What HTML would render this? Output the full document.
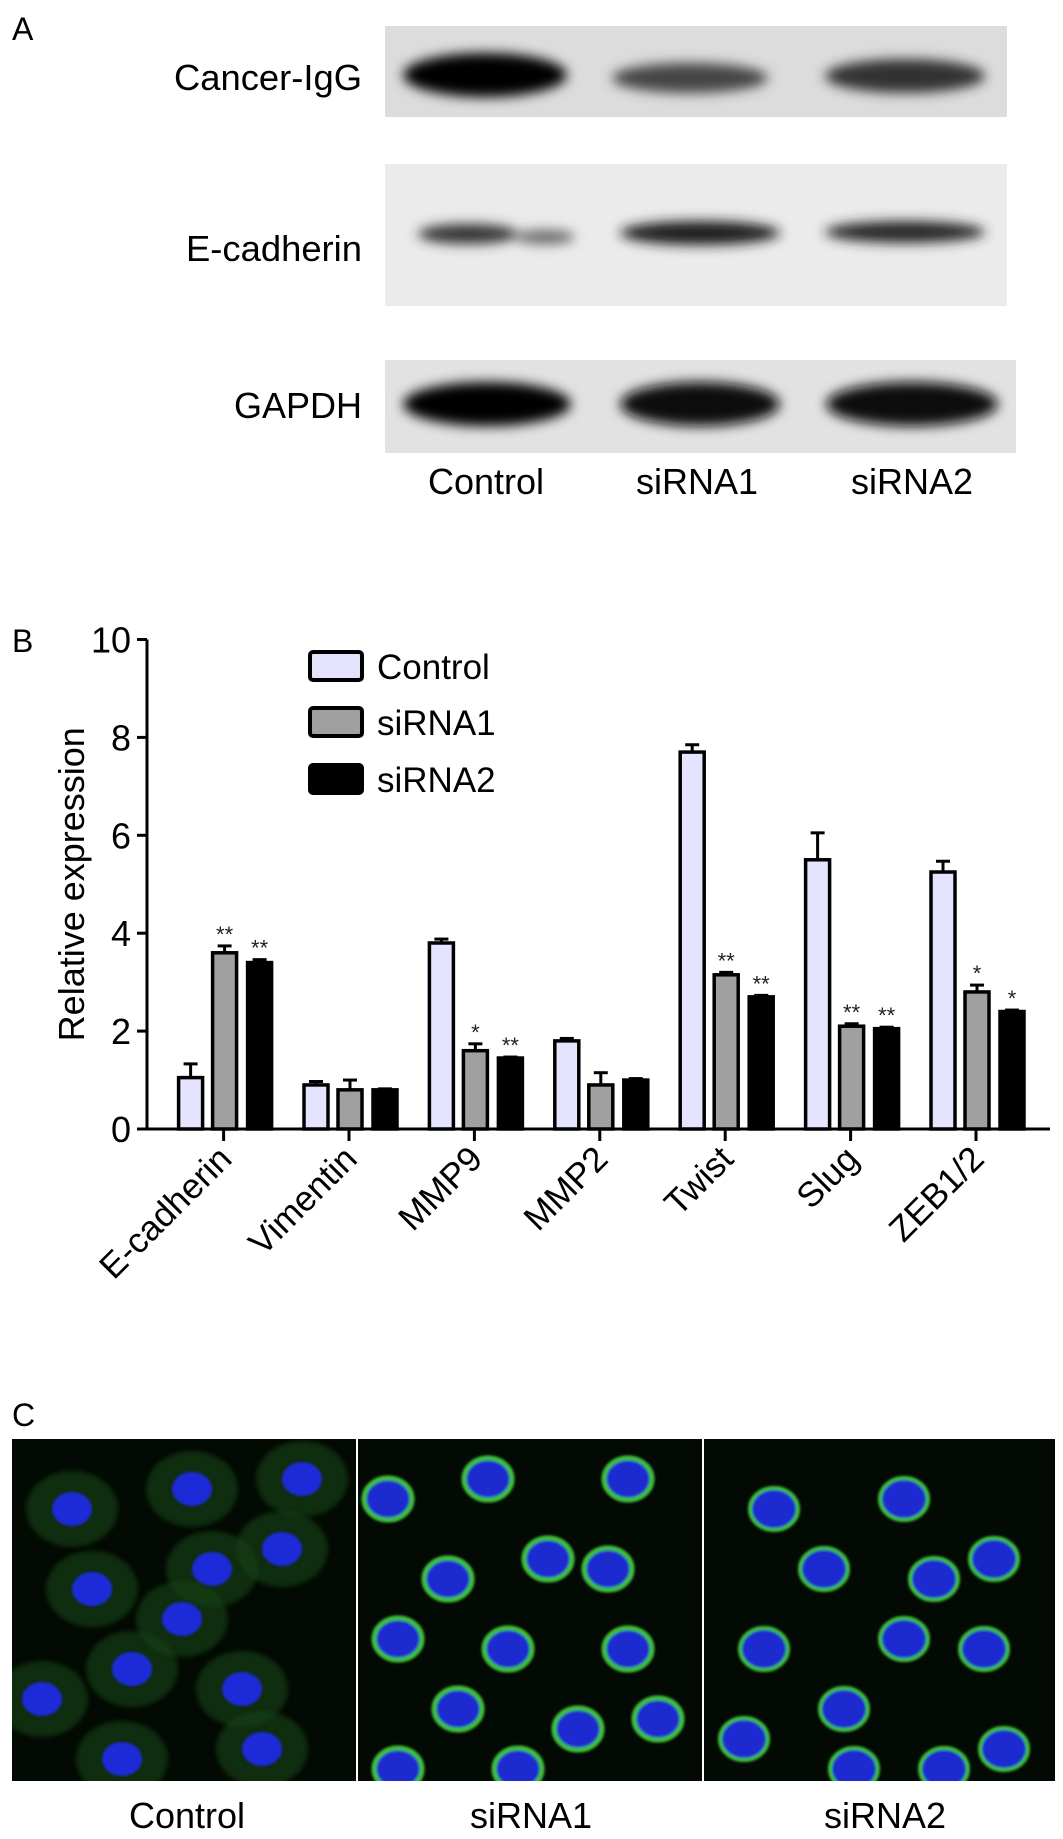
<!DOCTYPE html>
<html><head><meta charset="utf-8">
<style>
html,body{margin:0;padding:0;background:#fff;}
body{width:1063px;height:1834px;position:relative;overflow:hidden;font-family:"Liberation Sans",Arial,sans-serif;}
svg text{font-family:"Liberation Sans",Arial,sans-serif;}
</style></head>
<body>
<svg id="fig" width="1063" height="1834" viewBox="0 0 1063 1834" xmlns="http://www.w3.org/2000/svg">
<defs>
<filter id="blur6" x="-30%" y="-100%" width="160%" height="300%"><feGaussianBlur stdDeviation="6"/></filter>
<filter id="blur3" x="-30%" y="-50%" width="160%" height="200%"><feGaussianBlur stdDeviation="2.5"/></filter>
<filter id="blur1"><feGaussianBlur stdDeviation="1.2"/></filter>
<clipPath id="cp0"><rect x="12" y="1439" width="344" height="342"/></clipPath>
<clipPath id="cp1"><rect x="358" y="1439" width="344" height="342"/></clipPath>
<clipPath id="cp2"><rect x="704" y="1439" width="351" height="342"/></clipPath>
</defs>

<!-- Panel A -->
<text x="12" y="40" font-size="32">A</text>
<g>
  <rect x="385" y="26" width="622" height="91" fill="#dcdcdc"/>
  <rect x="385" y="164" width="622" height="142" fill="#ebebeb"/>
  <rect x="385" y="360" width="631" height="93" fill="#e2e2e2"/>
  <g filter="url(#blur6)">
    <ellipse cx="485" cy="75" rx="82" ry="22" fill="#050505"/>
    <ellipse cx="690" cy="78" rx="78" ry="15" fill="#444"/>
    <ellipse cx="905" cy="76" rx="80" ry="17" fill="#333"/>
    <ellipse cx="468" cy="234" rx="50" ry="10" fill="#333"/>
    <ellipse cx="545" cy="237" rx="30" ry="7" fill="#666"/>
    <ellipse cx="700" cy="233" rx="80" ry="12" fill="#1a1a1a"/>
    <ellipse cx="905" cy="232" rx="80" ry="11" fill="#262626"/>
    <ellipse cx="487" cy="404" rx="84" ry="22" fill="#050505"/>
    <ellipse cx="700" cy="404" rx="80" ry="22" fill="#080808"/>
    <ellipse cx="912" cy="404" rx="86" ry="22" fill="#080808"/>
  </g>
</g>
<g font-size="36" text-anchor="end">
  <text x="362" y="90" textLength="188" lengthAdjust="spacingAndGlyphs">Cancer-IgG</text>
  <text x="362" y="261" textLength="176" lengthAdjust="spacingAndGlyphs">E-cadherin</text>
  <text x="362" y="418" textLength="128" lengthAdjust="spacingAndGlyphs">GAPDH</text>
</g>
<g font-size="36" text-anchor="middle">
  <text x="486" y="494">Control</text>
  <text x="697" y="494">siRNA1</text>
  <text x="912" y="494">siRNA2</text>
</g>

<!-- Panel B -->
<text x="12" y="652" font-size="32">B</text>
<g id="chart"></g>

<!-- Panel C -->
<text x="12" y="1426" font-size="32">C</text>
<g id="micro"></g>
<g font-size="36" text-anchor="middle">
  <text x="187" y="1828">Control</text>
  <text x="531" y="1828">siRNA1</text>
  <text x="885" y="1828">siRNA2</text>
</g>
</svg>
<script>
const categories = ["E-cadherin","Vimentin","MMP9","MMP2","Twist","Slug","ZEB1/2"];
const seriesNames = ["Control","siRNA1","siRNA2"];
const controlVals = [1.05,0.9,3.8,1.8,7.7,5.5,5.25];
const sirna1Vals = [3.6,0.8,1.6,0.9,3.15,2.1,2.8];
const sirna2Vals = [3.4,0.8,1.45,1.0,2.7,2.05,2.4];
const controlErr = [0.28,0.07,0.08,0.05,0.15,0.55,0.22];
const sirna1Err = [0.14,0.2,0.14,0.25,0.05,0.05,0.14];
const sirna2Err = [0.06,0.02,0.02,0.03,0.03,0.03,0.03];
const sirna1Sig = ["**","","*","","**","**","*"];
const sirna2Sig = ["**","","**","","**","**","*"];
const yTicks = [0,2,4,6,8,10];

const NS="http://www.w3.org/2000/svg";
function mk(tag, attrs, parent){const e=document.createElementNS(NS,tag);for(const k in attrs)e.setAttribute(k,attrs[k]);parent.appendChild(e);return e;}
const chart=document.getElementById('chart');
const X0=147, X1=1050, Y0=1129, Ytop=639.5, YMAX=10;
const y=v=>Y0-(v/YMAX)*(Y0-Ytop);
const xc=i=>223.6+i*125.4;
const offsets=[-33,1,36];
const fills=["#e4e4ff","#a0a0a0","#000"];
const BW=24;
const vals=[controlVals,sirna1Vals,sirna2Vals];
const errs=[controlErr,sirna1Err,sirna2Err];
const sigs=[null,sirna1Sig,sirna2Sig];

let ax=mk('line',{x1:X0,y1:Ytop,x2:X0,y2:Y0+1.5,stroke:'#000','stroke-width':3},chart);


let bx=mk('line',{x1:X0-1.5,y1:Y0,x2:X1,y2:Y0,stroke:'#000','stroke-width':3},chart);


yTicks.forEach(t=>{
  const l=mk('line',{x1:X0-10,y1:y(t),x2:X0,y2:y(t),stroke:'#000','stroke-width':3},chart);
  
  
  const tx=mk('text',{x:X0-16,y:y(t)+13,'font-size':36,'text-anchor':'end'},chart);
  tx.textContent=t;
  
  
});
const yt=mk('text',{x:0,y:0,'font-size':36,'text-anchor':'middle',transform:`translate(84,${(Y0+Ytop)/2}) rotate(-90)`},chart);
yt.textContent="Relative expression";



categories.forEach((c,i)=>{
  const cx=xc(i);
  const tk=mk('line',{x1:cx,y1:Y0,x2:cx,y2:Y0+12,stroke:'#000','stroke-width':3},chart);
  
  
  const lb=mk('text',{x:0,y:0,'font-size':35,'text-anchor':'end',transform:`translate(${cx+10},${Y0+32}) rotate(-45)`},chart);
  lb.textContent=c;
  
  
  for(let s=0;s<3;s++){
    const v=vals[s][i], e=errs[s][i], bxc=cx+offsets[s];
    const top=y(v+e);
    const eb=mk('line',{x1:bxc,y1:top,x2:bxc,y2:y(v),stroke:'#000','stroke-width':3},chart);
    
    
    const cap=mk('line',{x1:bxc-7,y1:top,x2:bxc+7,y2:top,stroke:'#000','stroke-width':3},chart);
    
    
    const r=mk('rect',{x:bxc-BW/2,y:y(v),width:BW,height:Y0-y(v),fill:fills[s],stroke:'#000','stroke-width':3.5},chart);
    
    
    if(sigs[s] && sigs[s][i]){
      const st=mk('text',{x:bxc,y:top-4,'font-size':22,'text-anchor':'middle',fill:'#222'},chart);
      st.textContent=sigs[s][i];
      
      
    }
  }
});
const legY=[666,722,779];
seriesNames.forEach((n,s)=>{
  const r=mk('rect',{x:310,y:legY[s]-14,width:52,height:28,rx:3,fill:fills[s],stroke:'#000','stroke-width':4},chart);
  
  
  const t=mk('text',{x:377,y:legY[s]+13,'font-size':35},chart);
  t.textContent=n;
  
  
});

const micro=document.getElementById('micro');
const panels=[[12,358],[358,704],[704,1057]];
const yT=1439,yB=1781;
const cells=[
 [[60,70],[180,50],[290,40],[80,150],[200,130],[270,110],[120,230],[230,250],[110,320],[250,310],[30,260],[170,180]],
 [[30,60],[130,40],[270,40],[190,120],[90,140],[250,130],[40,200],[150,210],[270,210],[100,270],[220,290],[300,280],[160,330],[40,330]],
 [[70,70],[200,60],[120,130],[290,120],[230,140],[60,210],[200,200],[280,210],[140,270],[40,300],[300,310],[150,330],[240,330]]
];
panels.forEach((p,pi)=>{
  const g=mk('g',{'clip-path':`url(#cp${pi})`},micro);
  
  
  mk('rect',{x:p[0],y:yT,width:p[1]-p[0]-2,height:yB-yT,fill:'#030a03'},g);
  cells[pi].forEach(([cx,cy])=>{
    const X=p[0]+cx, Y=yT+cy;
    if(pi===0){
      mk('ellipse',{cx:X,cy:Y,rx:46,ry:38,fill:'#133f15',opacity:0.65,filter:'url(#blur3)'},g);
      mk('ellipse',{cx:X,cy:Y,rx:20,ry:17,fill:'#1a2cd8',filter:'url(#blur1)'},g);
    } else {
      mk('ellipse',{cx:X,cy:Y,rx:24,ry:21,fill:'#1a2ad0',stroke:'#3fbf3a','stroke-width':pi===1?5:4,filter:'url(#blur1)'},g);
    }
  });
});
</script>
</body></html>
